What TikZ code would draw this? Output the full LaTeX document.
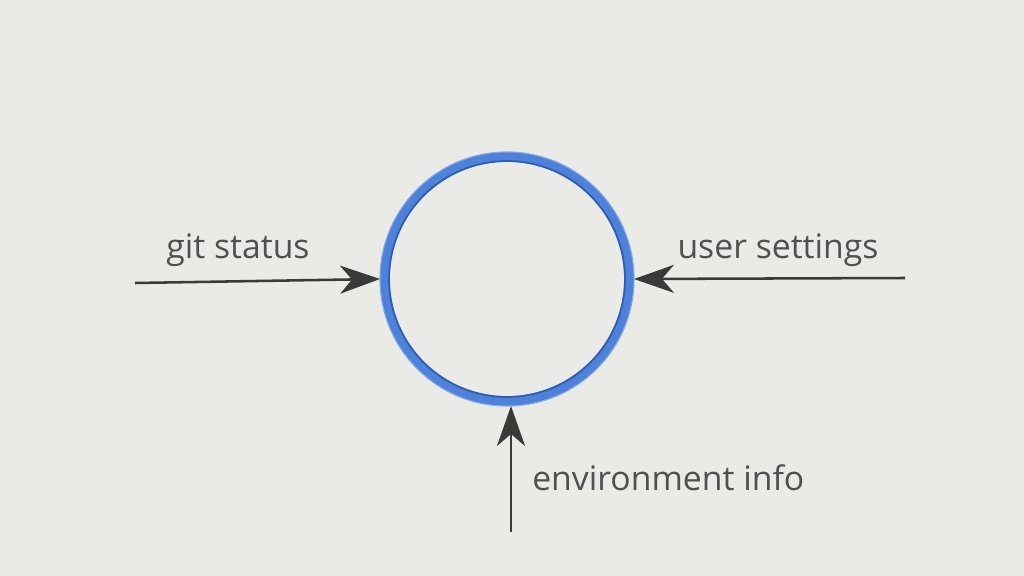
\documentclass[tikz,border=0pt]{standalone}
\usepackage{fontspec}
\setmainfont{Open Sans}
\usepackage{tikz}
\usetikzlibrary{arrows.meta,positioning}
\usepackage{xcolor}
\definecolor{paper}{HTML}{EAEAE7}
\definecolor{pencil}{HTML}{3A3A3A}
\definecolor{label}{HTML}{505050}
\definecolor{ring}{HTML}{4E82DA}
\definecolor{ringdark}{HTML}{2E5DB5}
\tikzset{
    feed/.style={
        -{Stealth[length=10mm,width=7mm,inset=3mm]},
        line width=1.8pt,
        color=pencil
    },
    corering/.style={
        circle,
        draw=ring,
        line width=7pt,
        minimum size=6.1cm,
        inner sep=0pt
    },
    feedlabel/.style={
        font=\fontsize{24}{28}\selectfont,
        text=label,
        inner sep=0pt
    }
}

\begin{document}
\begin{tikzpicture}[x=0.025cm,y=-0.025cm]

    % Fond
    \fill[paper] (0,0) rectangle (1024,576);
    \useasboundingbox (0,0) rectangle (1024,576);

    % Cercle central
    \node[corering] (core) at (507,279) {};
    \draw[ringdark,line width=1.2pt] (core.center) circle (118);
    \draw[ring!70,line width=0.8pt] (core.center) circle (127);

    % Points de depart
    \coordinate (gitfrom) at (135,283);
    \coordinate (userfrom) at (905,278);
    \coordinate (envfrom) at (511,532);

    % Fleches
    \draw[feed] (gitfrom) -- (core.west);
    \draw[feed] (userfrom) -- (core.east);
    \draw[feed] (envfrom) -- (core.south -| envfrom);

    % Etiquettes
    \node[feedlabel] (git) at (238,250) {git status};
    \node[feedlabel] (user) at (778,250) {user settings};
    \node[feedlabel,anchor=west] (env) at (532,478) {environment info};

\end{tikzpicture}
\end{document}
